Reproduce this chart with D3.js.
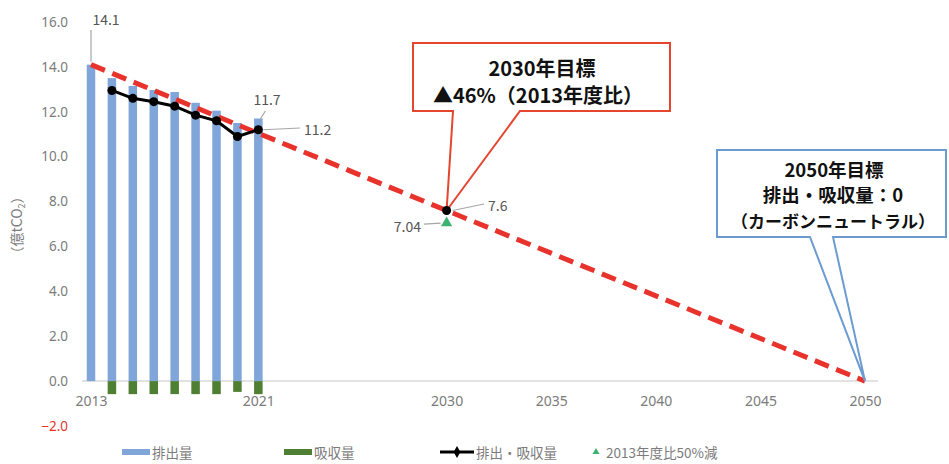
<!DOCTYPE html>
<html><head><meta charset="utf-8">
<script src="https://cdn.jsdelivr.net/npm/d3@7"></script>
<style>body{margin:0;background:#fff}svg{display:block}</style>
</head><body>
<svg id="c" width="949" height="464"></svg>
<script>
const years = [2013,2014,2015,2016,2017,2018,2019,2020,2021];
const emissions = [14.1,13.5,13.15,12.97,12.88,12.4,12.05,11.5,11.7];
const absorbYears = [2014,2015,2016,2017,2018,2019,2020,2021];
const absorption = [-0.58,-0.58,-0.58,-0.58,-0.58,-0.58,-0.48,-0.58];
const netYears = [2014,2015,2016,2017,2018,2019,2020,2021];
const netValues = [12.95,12.6,12.45,12.25,11.85,11.6,10.9,11.2];
const targetYears = [2013,2030,2050];
const targetValues = [14.1,7.6,0];
const halfYear = 2030, halfValue = 7.04;
const yTicks = [-2,0,2,4,6,8,10,12,14,16];
const xTicks = [2013,2021,2030,2035,2040,2045,2050];
const legendLabels = ["排出量","吸収量","排出・吸収量","2013年度比50%減"];

const svg = d3.select("#c");
const x = d3.scaleLinear().domain([2013,2050]).range([91,865]);
const y = d3.scaleLinear().domain([-2,16]).range([426,22]);
const gray = "#7b7b7b";
const blue = "#7fa5d9", green = "#4f7f33", red = "#e8332c";
const font = "'Noto Sans CJK JP','Noto Sans',sans-serif";

// y axis
const ya = svg.append("g").attr("transform","translate(70,0)")
  .call(d3.axisLeft(y).tickValues(yTicks).tickSize(0).tickPadding(2).tickFormat(d3.format(".1f")));
ya.select(".domain").remove();
ya.selectAll("text").attr("font-family","'Noto Sans',sans-serif").attr("font-size",13.5)
  .attr("fill",d=>d<0?red:gray);

// zero line
svg.append("line").attr("x1",82).attr("x2",878).attr("y1",y(0)).attr("y2",y(0))
  .attr("stroke","#d9d9d9").attr("stroke-width",1.5);

// x axis labels
const xa = svg.append("g").attr("transform",`translate(0,${y(0)+12})`)
  .call(d3.axisBottom(x).tickValues(xTicks).tickSize(0).tickFormat(d3.format("d")));
xa.select(".domain").remove();
xa.selectAll("text").attr("font-family","'Liberation Sans Narrow','Noto Sans',sans-serif")
  .attr("font-size",14).attr("fill",gray);

// y title
svg.append("text").attr("transform","translate(22,225) rotate(-90)")
  .attr("text-anchor","middle").attr("font-family",font).attr("font-size",14).attr("fill",gray)
  .html('（億tCO<tspan font-size="9" dy="3">2</tspan><tspan dy="-3">）</tspan>');

const bw = 8.5;
svg.append("g").selectAll("rect").data(years).join("rect")
  .attr("x",(d)=>x(d)-bw/2).attr("width",bw)
  .attr("y",(d,i)=>y(emissions[i])).attr("height",(d,i)=>y(0)-y(emissions[i]))
  .attr("fill",blue);
svg.append("g").selectAll("rect").data(absorbYears).join("rect")
  .attr("x",(d)=>x(d)-bw/2).attr("width",bw)
  .attr("y",y(0)).attr("height",(d,i)=>y(absorption[i])-y(0))
  .attr("fill",green);

// target dashed line
svg.append("path").datum(targetYears.map((d,i)=>[d,targetValues[i]]))
  .attr("d",d3.line().x(d=>x(d[0])).y(d=>y(d[1])))
  .attr("fill","none").attr("stroke",red).attr("stroke-width",5)
  .attr("stroke-dasharray","15,8");

// net line
const net = netYears.map((d,i)=>[d,netValues[i]]);
svg.append("path").datum(net).attr("d",d3.line().x(d=>x(d[0])).y(d=>y(d[1])))
  .attr("fill","none").attr("stroke","#000").attr("stroke-width",3);
svg.append("g").selectAll("circle").data(net).join("circle")
  .attr("cx",d=>x(d[0])).attr("cy",d=>y(d[1])).attr("r",4.5).attr("fill","#000");

// callouts
function callout(x0,y0,x1,y1,b1,b2,tx,ty,color){
  const p = d3.path();
  p.moveTo(x0,y0); p.lineTo(x1,y0); p.lineTo(x1,y1); p.lineTo(b2,y1);
  p.lineTo(tx,ty); p.lineTo(b1,y1); p.lineTo(x0,y1); p.closePath();
  svg.append("path").attr("d",p.toString()).attr("fill","#fff")
    .attr("stroke",color).attr("stroke-width",2);
}
callout(413,43,670,111,453,520,x(2030),y(7.6),"#e5452f");
callout(717,150,946,237,810,833,x(2050),y(0),"#6b9bd1");

function txt(s,tx,ty,size,opts={}){
  return svg.append("text").attr("x",tx).attr("y",ty).attr("text-anchor",opts.anchor||"middle")
    .attr("dominant-baseline","central")
    .attr("font-family",font).attr("font-size",size).attr("font-weight",opts.bold?"bold":"normal")
    .attr("fill",opts.fill||"#111").text(s);
}
txt("2030年目標",542,67,20,{bold:true});
txt("▲46%（2013年度比）",538,94,20,{bold:true});
txt("2050年目標",834,169,18.5,{bold:true});
txt("排出・吸収量：0",833,194,18.5,{bold:true});
txt("（カーボンニュートラル）",833,220,17,{bold:true});

// 2030 markers
svg.append("circle").attr("cx",x(2030)).attr("cy",y(7.6)).attr("r",4.5).attr("fill","#000");
svg.append("path").attr("d",d3.symbol(d3.symbolTriangle,55)())
  .attr("transform",`translate(${x(halfYear)},${y(halfValue)})`).attr("fill","#3cb371");

// data labels with leaders
const leader = (a,b,c,d)=>svg.append("line").attr("x1",a).attr("y1",b).attr("x2",c).attr("y2",d)
  .attr("stroke","#a6a6a6").attr("stroke-width",1.2);
leader(x(2013),30,x(2013),y(14.1)-3);
txt("14.1",106,19,14,{fill:"#555"});
leader(x(2021)+7,111,x(2021)+2,119);
txt("11.7",267,99,14,{fill:"#555"});
leader(x(2021)+5,y(11.2),300,128);
txt("11.2",304,129,14,{fill:"#555",anchor:"start"});
leader(x(2030)+6,y(7.6),484,204);
txt("7.6",488,205,14,{fill:"#555",anchor:"start"});
leader(424,y(halfValue)+1,x(halfYear)-6,y(halfValue));
txt("7.04",421,226,14,{fill:"#555",anchor:"end"});

// legend
const lg = svg.append("g").attr("font-family",font).attr("font-size",13.5).attr("fill",gray);
const ly = 452;
lg.append("rect").attr("x",122).attr("y",ly-3).attr("width",28).attr("height",6).attr("fill",blue);
lg.append("text").attr("x",152).attr("y",ly).attr("dominant-baseline","central").text(legendLabels[0]);
lg.append("rect").attr("x",284).attr("y",ly-3).attr("width",28).attr("height",6).attr("fill",green);
lg.append("text").attr("x",314).attr("y",ly).attr("dominant-baseline","central").text(legendLabels[1]);
lg.append("line").attr("x1",440).attr("x2",474).attr("y1",ly).attr("y2",ly).attr("stroke","#000").attr("stroke-width",3);
lg.append("path").attr("d",d3.symbol(d3.symbolDiamond,40)()).attr("transform",`translate(457,${ly})`).attr("fill","#000");
lg.append("text").attr("x",476).attr("y",ly).attr("dominant-baseline","central").text(legendLabels[2]);
lg.append("path").attr("d",d3.symbol(d3.symbolTriangle,22)()).attr("transform",`translate(596,${ly})`).attr("fill","#3cb371");
lg.append("text").attr("x",606).attr("y",ly).attr("dominant-baseline","central").text(legendLabels[3]);
</script>
</body></html>
